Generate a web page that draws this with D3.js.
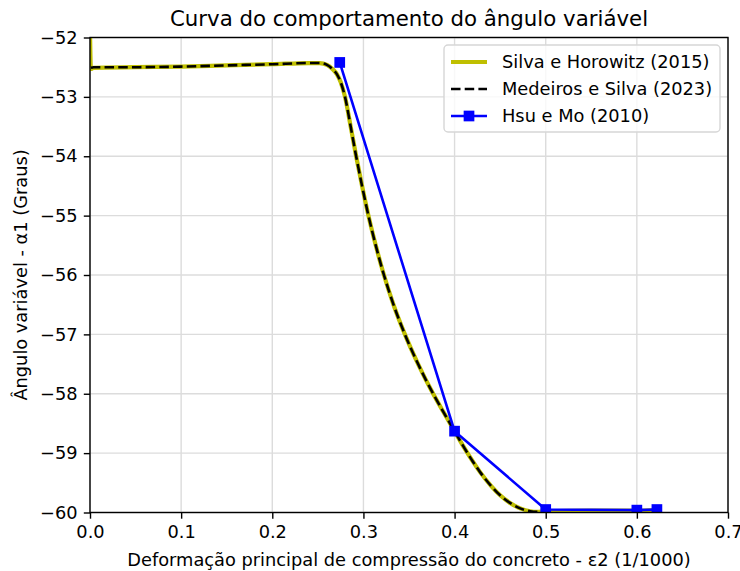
<!DOCTYPE html>
<html>
<head>
<meta charset="utf-8">
<script src="https://cdn.jsdelivr.net/npm/d3@7"></script>
<style>
  html, body { margin: 0; padding: 0; background: #fff; }
  svg { display: block; font-family: "DejaVu Sans", sans-serif; }
</style>
</head>
<body>
<svg id="chart" width="740" height="571"></svg>
<script>
// Silva e Horowitz (2015) – continuous curve
const silvaX = [0.000, 0.001, 0.004, 0.05, 0.10, 0.15, 0.20, 0.24, 0.252, 0.260, 0.266, 0.271, 0.275, 0.2798, 0.286, 0.292,
                0.2985, 0.3055, 0.3135, 0.3225, 0.333, 0.3455, 0.360, 0.3765, 0.3875, 0.400, 0.411, 0.420, 0.428, 0.440,
                0.450, 0.460, 0.472, 0.483, 0.490, 0.500, 0.550, 0.600, 0.620];
const silvaY = [-51.90, -52.53, -52.51, -52.50, -52.49, -52.47, -52.45, -52.43, -52.43, -52.46, -52.53, -52.62, -52.75, -53.00, -53.50, -54.00,
                -54.50, -55.00, -55.50, -56.00, -56.50, -57.00, -57.50, -58.00, -58.30, -58.63, -58.92, -59.14, -59.32, -59.55,
                -59.71, -59.83, -59.93, -59.98, -59.99, -59.98, -59.97, -59.97, -59.96];

// Medeiros e Silva (2023) – dashed curve
const medeirosX = [0.001, 0.004, 0.05, 0.10, 0.15, 0.20, 0.24, 0.252, 0.260, 0.266, 0.271, 0.275, 0.2798, 0.286, 0.292,
                   0.2985, 0.3055, 0.3135, 0.3225, 0.333, 0.3455, 0.360, 0.3765, 0.3875, 0.400, 0.411, 0.420, 0.428, 0.440,
                   0.450, 0.460, 0.472, 0.483, 0.490, 0.497];
const medeirosY = [-52.51, -52.50, -52.50, -52.49, -52.47, -52.45, -52.43, -52.43, -52.46, -52.53, -52.62, -52.75, -53.00, -53.50, -54.00,
                   -54.50, -55.00, -55.50, -56.00, -56.50, -57.00, -57.50, -58.00, -58.30, -58.63, -58.92, -59.14, -59.32, -59.55,
                   -59.71, -59.83, -59.93, -59.98, -59.99, -59.99];

// Hsu e Mo (2010) – discrete points
const hsuX = [0.274, 0.400, 0.500, 0.600, 0.622];
const hsuY = [-52.42, -58.63, -59.95, -59.96, -59.95];

const xTicks = [0.0, 0.1, 0.2, 0.3, 0.4, 0.5, 0.6, 0.7];
const yTicks = [-52, -53, -54, -55, -56, -57, -58, -59, -60];

const titleText = "Curva do comportamento do ângulo variável";
const xLabelText = "Deformação principal de compressão do concreto - ε2 (1/1000)";
const yLabelText = "Ângulo variável - α1 (Graus)";
const legendNames = ["Silva e Horowitz (2015)", "Medeiros e Silva (2023)", "Hsu e Mo (2010)"];

const svg = d3.select("#chart");
const m = { left: 90, right: 728, top: 37.5, bottom: 512.5 };
const x = d3.scaleLinear().domain([0, 0.7]).range([m.left, m.right]);
const y = d3.scaleLinear().domain([-60, -52]).range([m.bottom, m.top]);

const FS = 17.8;
const minus = s => s.replace("-", "\u2212");

// clip region = axes area
svg.append("defs").append("clipPath").attr("id", "plotClip")
  .append("rect").attr("x", m.left).attr("y", m.top)
  .attr("width", m.right - m.left).attr("height", m.bottom - m.top);

// grid
const grid = svg.append("g").attr("stroke", "#dcdcdc").attr("stroke-width", 1.4);
grid.selectAll("line.gx").data(xTicks).join("line")
  .attr("x1", d => x(d)).attr("x2", d => x(d)).attr("y1", m.top).attr("y2", m.bottom);
grid.selectAll("line.gy").data(yTicks).join("line")
  .attr("y1", d => y(d)).attr("y2", d => y(d)).attr("x1", m.left).attr("x2", m.right);

// data
const plot = svg.append("g").attr("clip-path", "url(#plotClip)");
const line = d3.line().x(d => x(d[0])).y(d => y(d[1])).curve(d3.curveMonotoneX);

plot.append("path").datum(d3.zip(silvaX, silvaY))
  .attr("d", line).attr("fill", "none").attr("stroke", "#bfbf00")
  .attr("stroke-width", 4.2).attr("stroke-linejoin", "round");

plot.append("path").datum(d3.zip(medeirosX, medeirosY))
  .attr("d", line).attr("fill", "none").attr("stroke", "#000")
  .attr("stroke-width", 2.6).attr("stroke-dasharray", "9.5,4.2");

const hsu = d3.zip(hsuX, hsuY);
plot.append("path").datum(hsu)
  .attr("d", d3.line().x(d => x(d[0])).y(d => y(d[1])))
  .attr("fill", "none").attr("stroke", "#0000ff").attr("stroke-width", 2.6);
const ms = 10.7;
plot.selectAll("rect.hsu").data(hsu).join("rect")
  .attr("x", d => x(d[0]) - ms / 2).attr("y", d => y(d[1]) - ms / 2)
  .attr("width", ms).attr("height", ms).attr("fill", "#0000ff");

// axes
const xAxis = d3.axisBottom(x).tickValues(xTicks).tickFormat(d => d3.format(".1f")(d))
  .tickSize(6.2).tickPadding(6.2);
const yAxis = d3.axisLeft(y).tickValues(yTicks).tickFormat(d => minus(String(d)))
  .tickSize(6.2).tickPadding(6.2);

const gx = svg.append("g").attr("transform", `translate(0,${m.bottom})`).call(xAxis);
const gy = svg.append("g").attr("transform", `translate(${m.left},0)`).call(yAxis);
[gx, gy].forEach(g => {
  g.select(".domain").remove();
  g.selectAll(".tick line").attr("stroke", "#000").attr("stroke-width", 1.4);
  g.selectAll(".tick text").attr("fill", "#000").style("font-size", FS + "px")
    .style("font-family", "DejaVu Sans");
});

// spines
svg.append("rect").attr("x", m.left).attr("y", m.top)
  .attr("width", m.right - m.left).attr("height", m.bottom - m.top)
  .attr("fill", "none").attr("stroke", "#000").attr("stroke-width", 1.4);

// title & labels
svg.append("text").attr("x", (m.left + m.right) / 2).attr("y", 26)
  .attr("text-anchor", "middle").style("font-size", "21.3px").text(titleText);
svg.append("text").attr("x", (m.left + m.right) / 2).attr("y", 566)
  .attr("text-anchor", "middle").style("font-size", FS + "px").text(xLabelText);
svg.append("text").attr("transform", `translate(27,${(m.top + m.bottom) / 2}) rotate(-90)`)
  .attr("text-anchor", "middle").style("font-size", FS + "px").text(yLabelText);

// legend
const lg = svg.append("g").attr("transform", "translate(444,45)");
lg.append("rect").attr("width", 276).attr("height", 87).attr("rx", 4)
  .attr("fill", "rgba(255,255,255,0.8)").attr("stroke", "#d6d6d6").attr("stroke-width", 1.4);
const rowY = [17, 44, 71];
const hx0 = 7, hx1 = 43;
lg.append("line").attr("x1", hx0).attr("x2", hx1).attr("y1", rowY[0]).attr("y2", rowY[0])
  .attr("stroke", "#bfbf00").attr("stroke-width", 4.2);
lg.append("line").attr("x1", hx0).attr("x2", hx1).attr("y1", rowY[1]).attr("y2", rowY[1])
  .attr("stroke", "#000").attr("stroke-width", 2.6).attr("stroke-dasharray", "9.5,4.2");
lg.append("line").attr("x1", hx0).attr("x2", hx1).attr("y1", rowY[2]).attr("y2", rowY[2])
  .attr("stroke", "#0000ff").attr("stroke-width", 2.6);
lg.append("rect").attr("x", (hx0 + hx1) / 2 - ms / 2).attr("y", rowY[2] - ms / 2)
  .attr("width", ms).attr("height", ms).attr("fill", "#0000ff");
lg.selectAll("text.lbl").data(legendNames).join("text")
  .attr("x", 58).attr("y", (d, i) => rowY[i]).attr("dy", "0.35em")
  .style("font-size", FS + "px").text(d => d);
</script>
</body>
</html>
